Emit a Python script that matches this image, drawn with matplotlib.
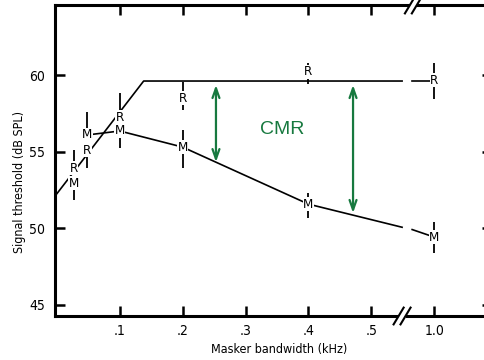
import matplotlib
matplotlib.use("Agg")
import matplotlib.pyplot as plt
from matplotlib.lines import Line2D

plt.rcParams['font.family'] = ['DejaVu Sans']
plt.rcParams['font.stretch'] = 'condensed'

# axis positions: 1.0 kHz sits after the break, at position 0.6
tick_pos = [0.1, 0.2, 0.3, 0.4, 0.5, 0.6]
tick_labels = ['.1', '.2', '.3', '.4', '.5', '1.0']
y_ticks = [45, 50, 55, 60]

# reproducible-noise (R) thresholds, dB SPL
r_x = [0.027, 0.048, 0.1, 0.2, 0.4, 0.6]
r_y = [53.93, 55.11, 57.26, 58.5, 60.2, 59.67]
r_lo = [53.93, 53.93, 57.26, 57.72, 59.41, 58.43]
r_hi = [55.11, 55.11, 58.83, 59.54, 60.78, 60.78]

# modulated-noise (M) thresholds, dB SPL
m_x = [0.027, 0.048, 0.1, 0.2, 0.4, 0.6]
m_y = [52.95, 56.09, 56.35, 55.3, 51.58, 49.43]
m_lo = [51.85, 56.09, 55.24, 53.93, 50.67, 48.39]
m_hi = [52.95, 57.59, 56.35, 56.41, 52.3, 50.41]

# fitted R curve (rise then plateau) and the M curve
r_fit_x = [-0.003, 0.138, 0.549]
r_fit_y = [52.1, 59.61, 59.61]
r_tail_x = [0.565, 0.6]
r_tail_y = [59.61, 59.61]
m_line_x = [0.048, 0.1, 0.2, 0.4, 0.549]
m_line_y = [56.09, 56.35, 55.3, 51.58, 50.07]
m_tail_x = [0.565, 0.6]
m_tail_y = [49.92, 49.43]

# CMR arrows: x, top, bottom
cmr_x = [0.253, 0.471]
cmr_top = [59.35, 59.35]
cmr_bot = [54.32, 51.0]
green = '#17793f'

fig = plt.figure(figsize=(4.85, 3.6), dpi=100)
ax = fig.add_axes([55 / 485, 44 / 360, 437 / 485, 311 / 360])
ax.set_xlim(-0.003, 0.692)
ax.set_ylim(44.28, 64.57)

for s in ['left', 'top', 'bottom']:
    ax.spines[s].set_linewidth(2.2)
ax.spines['right'].set_visible(False)

ax.set_xticks(tick_pos)
ax.set_xticklabels(tick_labels)
ax.set_yticks(y_ticks)
ax.tick_params(direction='in', length=7.5, width=1.8, labelsize=10,
               top=True, right=True, pad=6)
ax.tick_params(axis='y', pad=7)

lw = 1.2
ax.plot(r_fit_x, r_fit_y, color='black', lw=lw, zorder=2)
ax.plot(r_tail_x, r_tail_y, color='black', lw=lw, zorder=2)
ax.plot(m_line_x, m_line_y, color='black', lw=lw, zorder=2)
ax.plot(m_tail_x, m_tail_y, color='black', lw=lw, zorder=2)

ax.vlines(r_x, r_lo, r_hi, color='black', lw=1.3, zorder=2)
ax.vlines(m_x, m_lo, m_hi, color='black', lw=1.3, zorder=2)

box = dict(facecolor='white', edgecolor='none', pad=0.3)
for x, y in zip(r_x, r_y):
    ax.text(x, y, 'R', ha='center', va='center', fontsize=9.5,
            bbox=box, zorder=4)
for x, y in zip(m_x, m_y):
    ax.text(x, y, 'M', ha='center', va='center', fontsize=9.5,
            bbox=box, zorder=4)

for x, t, b in zip(cmr_x, cmr_top, cmr_bot):
    ax.annotate('', xy=(x, b), xytext=(x, t),
                arrowprops=dict(arrowstyle='<->,head_length=0.7,head_width=0.25',
                                color=green, lw=1.6, shrinkA=0, shrinkB=0))
ax.text(0.358, 56.48, 'CMR', color=green, fontsize=14, ha='center',
        va='center', family='Liberation Sans', stretch='normal')

# axis-break marks on the top and bottom spines
tr = ax.get_xaxis_transform()
for bx, by in [(0.549, 0.0), (0.567, 1.0)]:
    ax.add_patch(plt.Rectangle((bx - 0.006, by - 0.012), 0.012, 0.024,
                               transform=tr, facecolor='white',
                               edgecolor='none', clip_on=False, zorder=5))
    for dx in (-0.0055, 0.0055):
        ax.add_line(Line2D([bx + dx - 0.008, bx + dx + 0.008],
                           [by - 0.027, by + 0.027], transform=tr,
                           color='black', lw=1.5, clip_on=False, zorder=6))

fig.text(20 / 485, 1 - 182 / 360, 'Signal threshold (dB SPL)', rotation=90,
         ha='center', va='center', fontsize=9)
fig.text(279 / 485, 1 - 350 / 360, 'Masker bandwidth (kHz)',
         ha='center', va='center', fontsize=9)

fig.savefig('out.png', dpi=100)
